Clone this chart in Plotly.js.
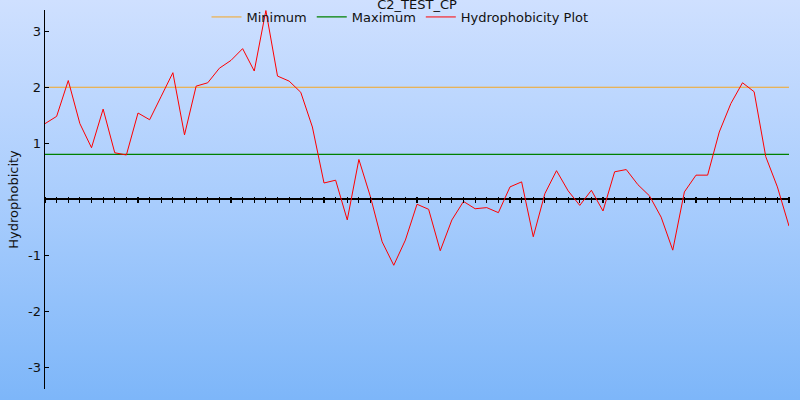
<!DOCTYPE html>
<html>
<head>
<meta charset="utf-8">
<script src="https://cdn.plot.ly/plotly-3.0.1.min.js"></script>
<style>
html, body { margin: 0; padding: 0; }
body { width: 800px; height: 400px; background: linear-gradient(to bottom, #cfe0ff 0%, #a9cdfd 50%, #7db6f9 100%); overflow: hidden; }
#chart { width: 800px; height: 400px; }
</style>
</head>
<body>
<div id="chart"></div>
<script>
// Hydrophobicity values, one per residue window
const hydrophobicity = [
  1.35, 1.48, 2.12, 1.35, 0.92, 1.61, 0.83, 0.79, 1.54, 1.42,
  1.84, 2.26, 1.15, 2.02, 2.08, 2.34, 2.48, 2.69, 2.29, 3.37,
  2.20, 2.11, 1.91, 1.29, 0.29, 0.34, -0.37, 0.71, 0.04, -0.76,
  -1.18, -0.73, -0.09, -0.18, -0.92, -0.37, -0.04, -0.17, -0.15, -0.24,
  0.22, 0.31, -0.67, 0.10, 0.51, 0.15, -0.11, 0.16, -0.21, 0.49,
  0.53, 0.26, 0.06, -0.32, -0.91, 0.13, 0.43, 0.43, 1.20, 1.71,
  2.08, 1.92, 0.76, 0.22, -0.48
];
const positions = hydrophobicity.map((_, i) => i);
const minimumValue = 2.0;
const maximumValue = 0.8;
const yTickVals = [-3, -2, -1, 1, 2, 3];
const yTickText = ["-3", "-2", "-1", "1", "2", "3"];
const seriesNames = ["Minimum", "Maximum", "Hydrophobicity Plot"];
const chartTitle = "C2_TEST_CP";
const yTitle = "Hydrophobicity";

const xFirst = positions[0], xLast = positions[positions.length - 1];
const yMin = -3.39, yMax = 3.38;
const plotH = 400 - 10 - 11;
const zeroFrac = (0 - yMin) / (yMax - yMin);

const font = { family: "DejaVu Sans, Verdana, sans-serif", size: 13, color: "#111" };

const traces = [
  { x: [xFirst, xLast], y: [minimumValue, minimumValue], name: seriesNames[0], mode: "lines",
    line: { color: "#f5a623", width: 1 }, hoverinfo: "skip" },
  { x: [xFirst, xLast], y: [maximumValue, maximumValue], name: seriesNames[1], mode: "lines",
    line: { color: "#008000", width: 1.2 }, hoverinfo: "skip" },
  { x: positions, y: hydrophobicity, name: seriesNames[2], mode: "lines",
    line: { color: "#ff0000", width: 1 } }
];

const layout = {
  width: 800, height: 400,
  paper_bgcolor: "rgba(0,0,0,0)",
  plot_bgcolor: "rgba(0,0,0,0)",
  margin: { l: 45, r: 11, t: 10, b: 11, pad: 0, autoexpand: false },
  font: font,
  title: { text: chartTitle, x: 0.5, xanchor: "center", xref: "paper", y: 0.99, yanchor: "middle", yref: "container",
           font: { family: font.family, size: 13, color: "#111" } },
  showlegend: true,
  legend: { orientation: "h", x: 0.5, xanchor: "center", xref: "container", y: 0.995, yanchor: "top", yref: "container",
            bgcolor: "rgba(0,0,0,0)", font: { family: font.family, size: 13, color: "#111" },
            itemwidth: 30, tracegroupgap: 0 },
  xaxis: {
    range: [xFirst, xLast], showgrid: false, zeroline: false, showline: false,
    anchor: "free", position: zeroFrac + 3 / plotH,
    ticks: "outside", ticklen: 6, tickwidth: 1.2, tickcolor: "#000",
    tickmode: "linear", tick0: 0, dtick: 1, showticklabels: false, fixedrange: true
  },
  yaxis: {
    range: [yMin, yMax], showgrid: false,
    zeroline: true, zerolinecolor: "#000", zerolinewidth: 1.6,
    showline: true, linecolor: "#000", linewidth: 1.4,
    ticks: "inside", ticklen: 4, tickcolor: "#000",
    tickmode: "array", tickvals: yTickVals, ticktext: yTickText,
    tickfont: { family: font.family, size: 13, color: "#111" },
    title: { text: yTitle, font: { family: font.family, size: 13, color: "#111" }, standoff: 6 },
    fixedrange: true
  }
};

Plotly.newPlot("chart", traces, layout, { displayModeBar: false, staticPlot: true });
</script>
</body>
</html>
